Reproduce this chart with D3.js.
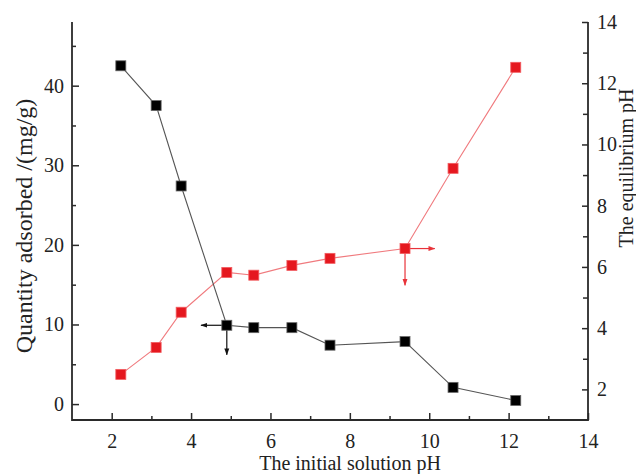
<!DOCTYPE html>
<html>
<head>
<meta charset="utf-8">
<script src="https://cdn.jsdelivr.net/npm/d3@7"></script>
<style>
  body { margin: 0; background: #fff; }
  svg { display: block; font-family: "Liberation Serif", "DejaVu Serif", serif; }
</style>
</head>
<body>
<svg id="chart" width="636" height="474"></svg>
<script>
// initial pH of each run
var initialPH = [2.23, 3.12, 3.75, 4.9, 5.58, 6.54, 7.5, 9.39, 10.6, 12.18];
// quantity adsorbed, mg/g (left axis)
var adsorbed = [42.5, 37.5, 27.4, 9.9, 9.6, 9.6, 7.4, 7.85, 2.1, 0.45];
// equilibrium pH (right axis)
var equilibriumPH = [2.49, 3.37, 4.52, 5.82, 5.73, 6.05, 6.28, 6.6, 9.22, 12.52];

var xTicks = [2, 4, 6, 8, 10, 12, 14];
var leftTicks = [0, 10, 20, 30, 40];
var rightTicks = [2, 4, 6, 8, 10, 12, 14];

// arrows pointing each series to its axis: [from index, to x, to y]
var blackArrows = [[3, 4.25, null], [3, null, 6.2]];
var redArrows = [[7, 10.14, null], [7, null, 5.4]];

var svg = d3.select("#chart");
// note: "top" is a reserved window global, so use prefixed names
var plotL = 72, plotR = 588, plotT = 22, plotB = 420;

var x = d3.scaleLinear().domain([1, 14]).range([plotL, plotR]);
var yL = d3.scaleLinear().domain([-2, 48]).range([plotB, plotT]);
var yR = d3.scaleLinear().domain([1, 14]).range([plotB, plotT]);

var axisColor = "#2a2a2a";

var defs = svg.append("defs");
var addHead = function (id, color) {
  defs.append("marker")
    .attr("id", id)
    .attr("viewBox", "0 0 10 10")
    .attr("refX", 9).attr("refY", 5)
    .attr("markerWidth", 7).attr("markerHeight", 7)
    .attr("markerUnits", "userSpaceOnUse")
    .attr("orient", "auto")
    .append("path")
    .attr("d", "M0,1.5L10,5L0,8.5Z")
    .attr("fill", color);
};
addHead("headBlack", "#111");
addHead("headRed", "#e8333a");

// axes, ticks drawn inward
var styleAxis = function (g) {
  g.select(".domain").remove();
  g.selectAll("line").attr("stroke", axisColor).attr("stroke-width", 1.5);
  g.selectAll("text").attr("fill", "#222").style("font-size", "20px")
    .style("font-family", "Liberation Serif, serif");
};

var xMinor = d3.range(3, 14, 2);
var leftMinor = [5, 15, 25, 35, 45];
var rightMinor = d3.range(3, 14, 2);

var gx = svg.append("g").attr("transform", "translate(0," + plotB + ")");
gx.call(d3.axisBottom(x).tickValues(xMinor).tickSize(-4).tickFormat(""));
gx.append("g").call(d3.axisBottom(x).tickValues(xTicks).tickSize(-7).tickPadding(16).tickFormat(d3.format("d"))).call(styleAxis);
styleAxis(gx);
gx.selectAll("text").attr("dy", "0.62em");

var gl = svg.append("g").attr("transform", "translate(" + plotL + ",0)");
gl.call(d3.axisLeft(yL).tickValues(leftMinor).tickSize(-4).tickFormat(""));
gl.append("g").call(d3.axisLeft(yL).tickValues(leftTicks).tickSize(-7).tickPadding(8).tickFormat(d3.format("d"))).call(styleAxis);
styleAxis(gl);

var gr = svg.append("g").attr("transform", "translate(" + plotR + ",0)");
gr.call(d3.axisRight(yR).tickValues(rightMinor).tickSize(-5).tickFormat(""));
gr.append("g").call(d3.axisRight(yR).tickValues(rightTicks).tickSize(-6).tickPadding(9).tickFormat(d3.format("d"))).call(styleAxis);
styleAxis(gr);

// frame lines: left, bottom, right
svg.append("path")
  .attr("d", "M" + plotL + "," + plotT + "V" + plotB + "H" + plotR + "V" + plotT)
  .attr("fill", "none").attr("stroke", axisColor).attr("stroke-width", 1.8);

// axis titles
svg.append("text")
  .attr("x", (plotL + plotR) / 2 + 20).attr("y", 470)
  .attr("text-anchor", "middle").style("font-size", "20px").attr("fill", "#222")
  .text("The initial solution pH");

svg.append("text")
  .attr("transform", "translate(32,226) rotate(-90)")
  .attr("text-anchor", "middle").style("font-size", "24px").attr("fill", "#222")
  .text("Quantity adsorbed /(mg/g)");

svg.append("text")
  .attr("transform", "translate(633,168) rotate(-90)")
  .attr("text-anchor", "middle").style("font-size", "20px").attr("fill", "#222")
  .text("The equilibrium pH");

var blackPts = initialPH.map(function (d, i) { return [d, adsorbed[i]]; });
var redPts = initialPH.map(function (d, i) { return [d, equilibriumPH[i]]; });

var lineL = d3.line().x(function (d) { return x(d[0]); }).y(function (d) { return yL(d[1]); });
var lineR = d3.line().x(function (d) { return x(d[0]); }).y(function (d) { return yR(d[1]); });

svg.append("path").attr("d", lineR(redPts))
  .attr("fill", "none").attr("stroke", "#f07a7e").attr("stroke-width", 1.1);
svg.append("path").attr("d", lineL(blackPts))
  .attr("fill", "none").attr("stroke", "#555").attr("stroke-width", 1.1);

// arrows
var drawArrows = function (arrows, yScale, values, color, head) {
  svg.selectAll(null).data(arrows).enter().append("line")
    .attr("x1", function (a) { return x(initialPH[a[0]]); })
    .attr("y1", function (a) { return yScale(values[a[0]]); })
    .attr("x2", function (a) { return x(a[1] === null ? initialPH[a[0]] : a[1]); })
    .attr("y2", function (a) { return yScale(a[2] === null ? values[a[0]] : a[2]); })
    .attr("stroke", color).attr("stroke-width", 1.2)
    .attr("marker-end", "url(#" + head + ")");
};
drawArrows(blackArrows, yL, adsorbed, "#111", "headBlack");
drawArrows(redArrows, yR, equilibriumPH, "#e8333a", "headRed");

var size = 10;
svg.selectAll("rect.red").data(redPts).enter().append("rect")
  .attr("class", "red")
  .attr("x", function (d) { return x(d[0]) - size / 2; })
  .attr("y", function (d) { return yR(d[1]) - size / 2; })
  .attr("width", size).attr("height", size)
  .attr("fill", "#e5181f").attr("stroke", "#f25c60").attr("stroke-width", 0.8);

svg.selectAll("rect.black").data(blackPts).enter().append("rect")
  .attr("class", "black")
  .attr("x", function (d) { return x(d[0]) - size / 2; })
  .attr("y", function (d) { return yL(d[1]) - size / 2; })
  .attr("width", size).attr("height", size)
  .attr("fill", "#000").attr("stroke", "#666").attr("stroke-width", 0.8);
</script>
</body>
</html>
